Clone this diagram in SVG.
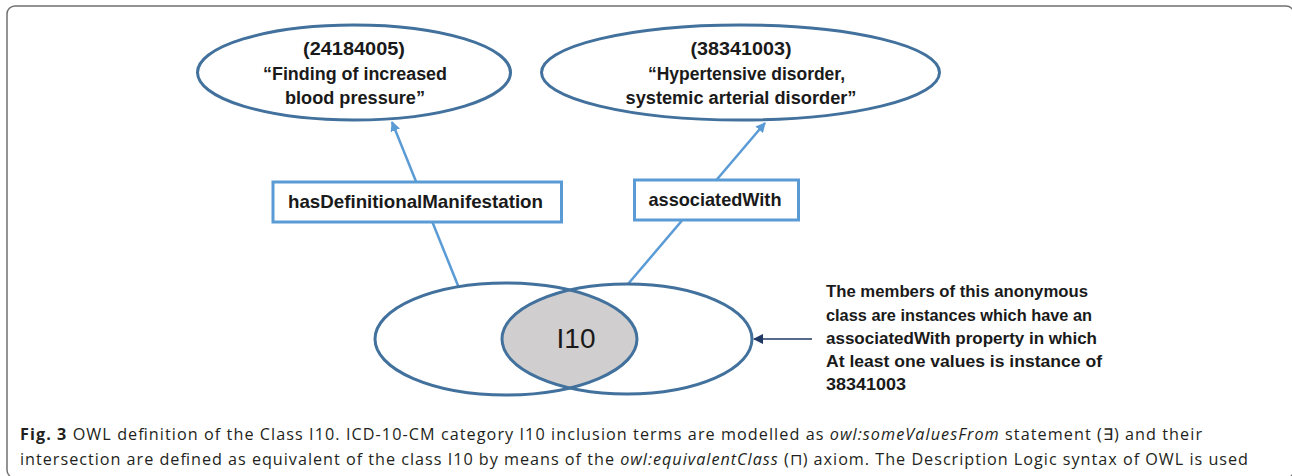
<svg xmlns="http://www.w3.org/2000/svg" width="1292" height="476" viewBox="0 0 1292 476">
<style>
.ell{fill:#fff;stroke:#41719C;stroke-width:3}
.box{fill:#fff;stroke:#5B9BD5;stroke-width:3}
.lbl{font-family:"Liberation Sans",Arial,sans-serif;font-weight:bold;fill:#1a1a1a}
.conn{stroke:#5B9BD5;stroke-width:2.5;fill:none}
.cap{font-family:"Open Sans","Noto Sans",sans-serif;font-size:16.2px;fill:#231f20}
</style>
<defs>
<marker id="ah" viewBox="0 0 10 10" refX="9" refY="5" markerWidth="4" markerHeight="4" markerUnits="strokeWidth" orient="auto">
<path d="M0,0 L10,5 L0,10 z" fill="#5B9BD5"/>
</marker>
<marker id="ahd" viewBox="0 0 10 10" refX="9" refY="5" markerWidth="7" markerHeight="7" markerUnits="strokeWidth" orient="auto">
<path d="M0,0 L10,5 L0,10 z" fill="#203864"/>
</marker>
<clipPath id="rclip"><ellipse cx="627" cy="339" rx="125" ry="55"/></clipPath>
</defs>
<rect x="7" y="6" width="1287" height="472" rx="8" fill="none" stroke="#707070" stroke-width="1.5"/>
<g id="connectors">
<line class="conn" x1="459" y1="288" x2="392" y2="122" marker-end="url(#ah)"/>
<line class="conn" x1="628" y1="284" x2="765" y2="123" marker-end="url(#ah)"/>
<line x1="812" y1="339" x2="754" y2="339" stroke="#203864" stroke-width="1.5" marker-end="url(#ahd)"/>
</g>
<g id="node-24184005">
<ellipse class="ell" cx="354" cy="72.5" rx="156.5" ry="47.5"/>
<text class="lbl" font-size="18" text-anchor="middle" x="354" y="55" textLength="102" lengthAdjust="spacingAndGlyphs">(24184005)</text>
<text class="lbl" font-size="18" text-anchor="middle" x="355" y="80" textLength="184" lengthAdjust="spacingAndGlyphs">“Finding of increased</text>
<text class="lbl" font-size="18" text-anchor="middle" x="355" y="104" textLength="140" lengthAdjust="spacingAndGlyphs">blood pressure”</text>
</g>
<g id="node-38341003">
<ellipse class="ell" cx="740.5" cy="72.5" rx="199" ry="47.5"/>
<text class="lbl" font-size="18" text-anchor="middle" x="741" y="55" textLength="101" lengthAdjust="spacingAndGlyphs">(38341003)</text>
<text class="lbl" font-size="18" text-anchor="middle" x="746.5" y="80" textLength="197" lengthAdjust="spacingAndGlyphs">“Hypertensive disorder,</text>
<text class="lbl" font-size="18" text-anchor="middle" x="741" y="104" textLength="231" lengthAdjust="spacingAndGlyphs">systemic arterial disorder”</text>
</g>
<g id="node-hasDefinitionalManifestation">
<rect class="box" x="273" y="182" width="288.5" height="40"/>
<text class="lbl" font-size="18.5" text-anchor="middle" x="415.5" y="208" textLength="255" lengthAdjust="spacingAndGlyphs">hasDefinitionalManifestation</text>
</g>
<g id="node-associatedWith">
<rect class="box" x="634.5" y="180" width="164" height="40"/>
<text class="lbl" font-size="18.5" text-anchor="middle" x="715" y="206" textLength="133" lengthAdjust="spacingAndGlyphs">associatedWith</text>
</g>
<g id="node-I10">
<ellipse cx="506" cy="339" rx="131" ry="56" fill="#fff"/>
<ellipse cx="627" cy="339" rx="125" ry="55" fill="#fff"/>
<ellipse cx="506" cy="339" rx="131" ry="56" fill="#D0CECE" clip-path="url(#rclip)"/>
<ellipse cx="506" cy="339" rx="131" ry="56" fill="none" stroke="#41719C" stroke-width="3"/>
<ellipse cx="627" cy="339" rx="125" ry="55" fill="none" stroke="#41719C" stroke-width="3"/>
<text x="576" y="347.5" text-anchor="middle" font-family="Liberation Sans,Arial,sans-serif" font-size="28" fill="#1a1a1a">I10</text>
</g>
<g id="note">
<text class="lbl" font-size="16.5" x="826" y="297" textLength="262" lengthAdjust="spacingAndGlyphs">The members of this anonymous</text>
<text class="lbl" font-size="16.5" x="826" y="320.5" textLength="266" lengthAdjust="spacingAndGlyphs">class are instances which have an</text>
<text class="lbl" font-size="16.5" x="826" y="343.5" textLength="271" lengthAdjust="spacingAndGlyphs">associatedWith property in which</text>
<text class="lbl" font-size="16.5" x="826" y="366.5" textLength="276" lengthAdjust="spacingAndGlyphs">At least one values is instance of</text>
<text class="lbl" font-size="16.5" x="826" y="389.5" textLength="80" lengthAdjust="spacingAndGlyphs">38341003</text>
</g>
<g id="caption">
<text class="cap" x="20" y="440" textLength="1182"><tspan font-weight="bold">Fig. 3</tspan> OWL definition of the Class I10. ICD-10-CM category I10 inclusion terms are modelled as <tspan font-style="italic">owl:someValuesFrom</tspan> statement (∃) and their</text>
<text class="cap" x="20" y="465" textLength="1228">intersection are defined as equivalent of the class I10 by means of the <tspan font-style="italic">owl:equivalentClass</tspan> (⊓) axiom. The Description Logic syntax of OWL is used</text>
</g>
</svg>
